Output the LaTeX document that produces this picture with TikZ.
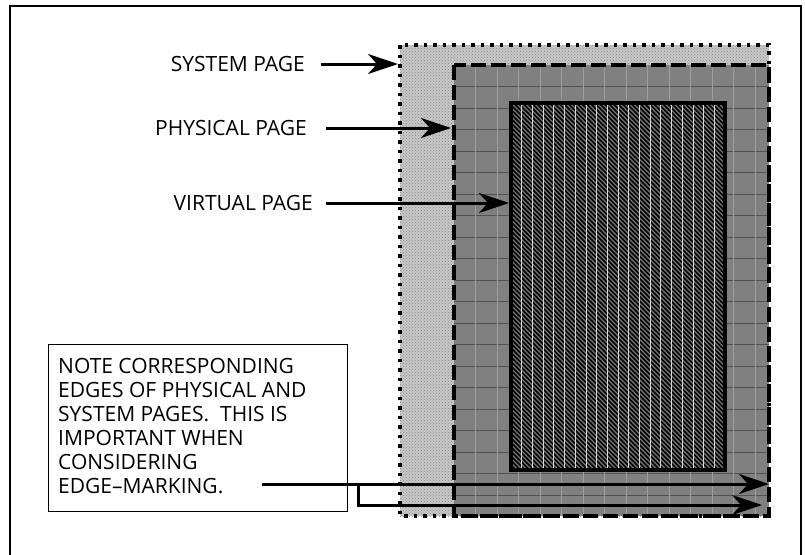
\documentclass[tikz,border=0pt]{standalone}
\usepackage{fontspec}
\setmainfont{Open Sans}
\usetikzlibrary{arrows.meta,patterns}
\tikzset{
  frameline/.style={line width=1.4pt,black},
  lbl/.style={font=\fontsize{21}{24}\selectfont,inner sep=0pt,anchor=base east},
  notetext/.style={font=\fontsize{21}{24}\selectfont,inner sep=0pt,anchor=base west,align=left},
  notebox/.style={draw,line width=1.3pt,fill=white},
  ptr/.style={line width=3pt,-{Stealth[length=30pt,width=20pt,inset=9pt]}},
  syspage/.style={draw,line width=3.6pt,dash pattern=on 3.5pt off 6pt},
  phypage/.style={draw,line width=4pt,dash pattern=on 15pt off 5pt},
  virtpage/.style={draw,line width=4.5pt},
  gridline/.style={line width=0.5pt,black!68},
  softline/.style={line width=0.5pt,black!38},
  hatchline/.style={line width=1.6pt,black},
  whiteline/.style={line width=0.7pt,white!85!black},
}
\begin{document}
\begin{tikzpicture}[x=1pt,y=-1pt]
\useasboundingbox (0,0) rectangle (805,554);
% outer frame (bottom edge beyond the picture)
\draw[frameline] (10,600) -- (10,6) -- (801,6) -- (801,600);

% corners of the pages
\coordinate (sysNW) at (400,45);  \coordinate (sysSE) at (769,516);
\coordinate (phyNW) at (454,65);  \coordinate (phySE) at (769,516);
\coordinate (virNW) at (511,103); \coordinate (virSE) at (725,470);

% fills
\fill[black!22] (sysNW) rectangle (sysSE);
\fill[pattern=crosshatch dots,pattern color=black!45] (sysNW) rectangle (sysSE);
\fill[black!50] (phyNW) rectangle (phySE);
% grid in the physical page
\foreach \y in {86.5,108,...,516} \draw[gridline] (454,\y) -- (769,\y);
\foreach \x in {475.5,497,...,769} \draw[softline] (\x,65) -- (\x,516);
% virtual page
\fill[black!55] (virNW) rectangle (virSE);
\begin{scope}
  \clip (virNW) rectangle (virSE);
  \foreach \d in {0,4.5,...,590} \draw[hatchline] (511+\d-380,103) -- (511+\d,483);
\end{scope}
\foreach \x in {521.7,532.4,...,725} \draw[whiteline] (\x,103) -- (\x,470);

% borders
\draw[syspage] (sysNW) rectangle (sysSE);
\draw[phypage] (phyNW) rectangle (phySE);
\draw[virtpage] (virNW) rectangle (virSE);

% labels and pointers
\node[lbl] (syslbl) at (305,71) {SYSTEM PAGE};
\node[lbl] (phylbl) at (307,135) {PHYSICAL PAGE};
\node[lbl] (virlbl) at (313,210) {VIRTUAL PAGE};
\coordinate (sysedge) at (398,64);
\coordinate (phyedge) at (451,128);
\coordinate (viredge) at (509,203);
\draw[ptr] (syslbl.east |- sysedge) ++(16,0) -- (sysedge);
\draw[ptr] (phylbl.east |- phyedge) ++(19,0) -- (phyedge);
\draw[ptr] (virlbl.east |- viredge) ++(13,0) -- (viredge);

% note box
\node[notebox,minimum width=299pt,minimum height=167pt,anchor=north west] (note) at (48,344) {};
\node[notetext] (n1) at (58,373) {NOTE CORRESPONDING};
\node[notetext] (n2) at (58,397) {EDGES OF PHYSICAL AND};
\node[notetext] (n3) at (58,421) {SYSTEM PAGES.\ \ THIS IS};
\node[notetext] (n4) at (58,445) {IMPORTANT WHEN};
\node[notetext] (n5) at (58,469) {CONSIDERING};
\node[notetext] (n6) at (58,493) {EDGE–MARKING.};

% edge-marking pointers
\coordinate (estart) at (262,484);
\coordinate (ebranch) at (358,484);
\coordinate (ecorner) at (358,505);
\coordinate (sysright) at (769,484);
\coordinate (phyright) at (762,505);
\draw[ptr] (estart) -- (sysright);
\draw[ptr] (ebranch) -- (ecorner) -- (phyright);
\end{tikzpicture}
\end{document}
